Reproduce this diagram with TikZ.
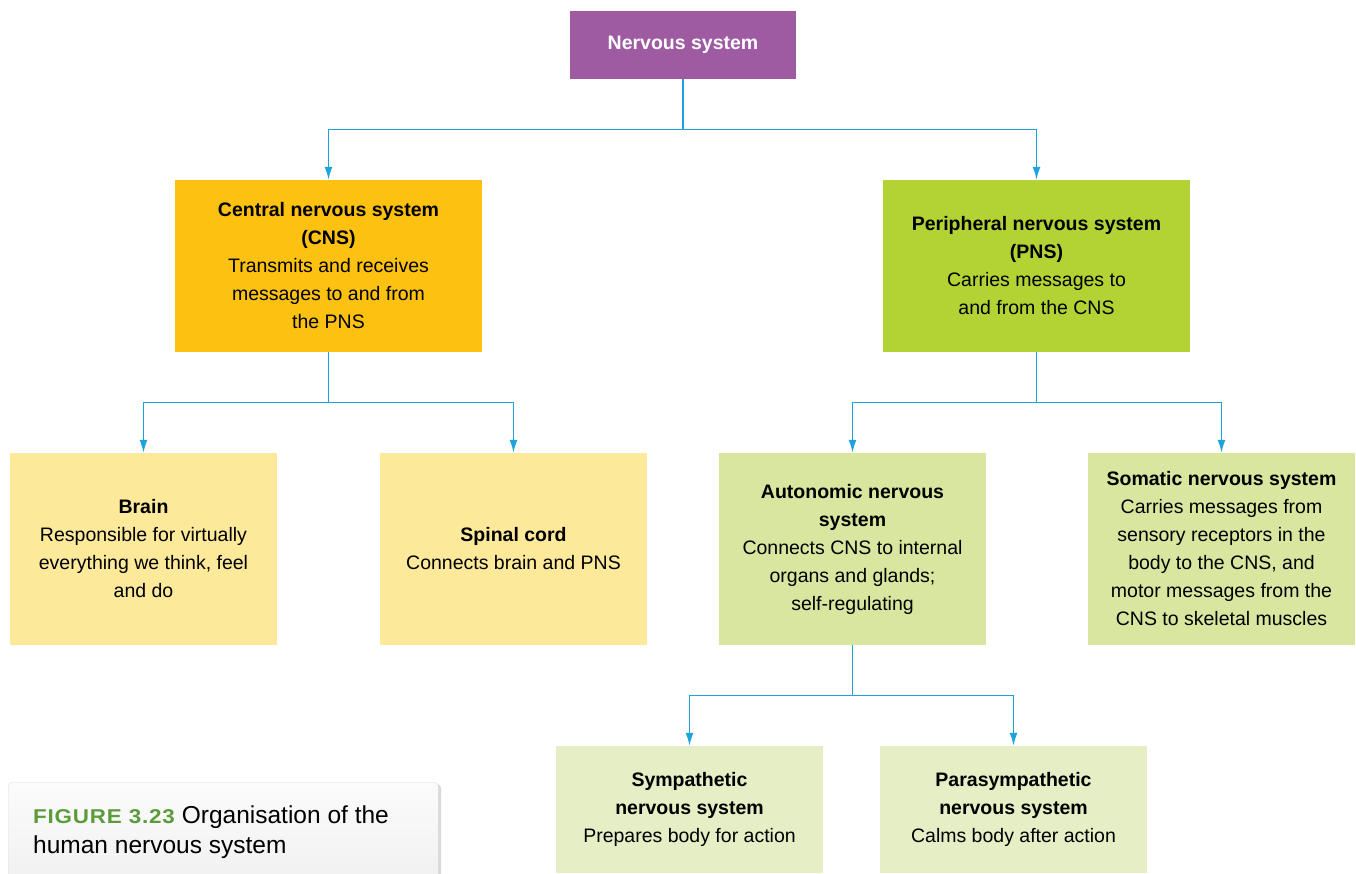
\documentclass[tikz,border=0pt]{standalone}
\usepackage{fontspec}
\setmainfont{Liberation Sans}
\newfontfamily\figfont{Liberation Sans}[FakeStretch=1.12,LetterSpace=4]
\usetikzlibrary{arrows.meta}
\usetikzlibrary{calc}
\usetikzlibrary{shadows}

\definecolor{nsPurple}{HTML}{9E5BA2}
\definecolor{cnsOrange}{HTML}{FDC111}
\definecolor{pnsGreen}{HTML}{B3D334}
\definecolor{cnsLight}{HTML}{FDE99A}
\definecolor{pnsLight}{HTML}{D9E69F}
\definecolor{autoLight}{HTML}{E6EEC6}
\definecolor{linkBlue}{HTML}{1AA3DD}
\definecolor{figGreen}{HTML}{5B9B3A}

\tikzset{
    box/.style={inner sep=0pt, align=center, font=\fontsize{19.5}{28}\selectfont},
    link/.style={draw=linkBlue, line width=1.6pt, -{Latex[length=13pt,width=8pt]}},
    branch/.style={to path={(\tikztostart.south) |- ($(\tikztostart.south)!.5!(\tikztotarget.north)$) -| (\tikztotarget.north)}}
}

\begin{document}
\begin{tikzpicture}[x=1pt,y=-1pt]
        \useasboundingbox (0,0) rectangle (1356,873);
        \node[box, fill=nsPurple, text=white, minimum width=226, minimum height=68] (ns) at (683,45) {\textbf{Nervous system}};
        \node[box, fill=cnsOrange, minimum width=307, minimum height=172] (cns) at (328.5,266)
            {\textbf{Central nervous system}\\\textbf{(CNS)}\\Transmits and receives\\messages to and from\\the PNS};
        \node[box, fill=pnsGreen, minimum width=307, minimum height=172] (pns) at (1036.5,266)
            {\textbf{Peripheral nervous system}\\\textbf{(PNS)}\\Carries messages to\\and from the CNS};
        \node[box, fill=cnsLight, minimum width=267, minimum height=192] (brain) at (143.5,549)
            {\textbf{Brain}\\Responsible for virtually\\everything we think, feel\\and do};
        \node[box, fill=cnsLight, minimum width=267, minimum height=192] (spinal) at (513.5,549)
            {\textbf{Spinal cord}\\Connects brain and PNS};
        \node[box, fill=pnsLight, minimum width=267, minimum height=192] (auto) at (852.5,549)
            {\textbf{Autonomic nervous}\\\textbf{system}\\Connects CNS to internal\\organs and glands;\\self-regulating};
        \node[box, fill=pnsLight, minimum width=267, minimum height=192] (soma) at (1221.5,549)
            {\textbf{Somatic nervous system}\\Carries messages from\\sensory receptors in the\\body to the CNS, and\\motor messages from the\\CNS to skeletal muscles};
        \node[box, fill=autoLight, minimum width=267, minimum height=127] (symp) at (689.5,809.5)
            {\textbf{Sympathetic}\\\textbf{nervous system}\\Prepares body for action};
        \node[box, fill=autoLight, minimum width=267, minimum height=127] (para) at (1013.5,809.5)
            {\textbf{Parasympathetic}\\\textbf{nervous system}\\Calms body after action};

        \foreach \a/\b in {ns/cns,ns/pns,cns/brain,cns/spinal,pns/auto,pns/soma,auto/symp,auto/para}{
            \draw[link] (\a) to[branch] (\b);
        }

        \node[anchor=north west, minimum width=430, minimum height=110, rounded corners=4pt,
              draw=gray!25, top color=gray!3, bottom color=gray!12,
              drop shadow={opacity=0.3, shadow xshift=3pt, shadow yshift=-2pt}] (capbox) at (8,782) {};
        \node[anchor=north west, inner sep=0pt, align=left, font=\fontsize{24.5}{30}\selectfont] (caption) at (33,806)
            {{\figfont\fontsize{20}{30}\selectfont\bfseries\color{figGreen}FIGURE 3.23}\hspace{7pt}Organisation of the\\human nervous system};
\end{tikzpicture}
\end{document}
